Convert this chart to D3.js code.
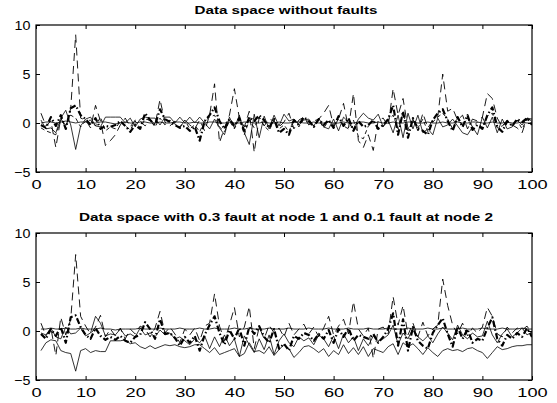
<!DOCTYPE html>
<html>
<head>
<meta charset="utf-8">
<script src="https://cdn.jsdelivr.net/npm/d3@7"></script>
<style>
  body { margin: 0; background: #fff; }
  svg { display: block; font-family: "Liberation Sans", Arial, sans-serif; }
</style>
</head>
<body>
<div id="chart"></div>
<script>
// Tick values and titles
const xTicks = [0, 10, 20, 30, 40, 50, 60, 70, 80, 90, 100]
const yTicks = [-5, 0, 5, 10]
const titles = [
  "Data space without faults",
  "Data space with 0.3 fault at node 1 and 0.1 fault at node 2"
]

// Top panel: data space without faults (samples 1..100)
const topSpike = [1.0,-0.3,0.2,-2.5,0.5,-0.5,1.5,9.0,0.5,0.3,-0.5,1.8,0.2,-2.3,-1.8,-1.2,-0.2,0.5,-0.4,0.3,
  0.2,-0.3,0.4,-0.2,2.4,0.1,-0.3,0.2,-0.5,0.3,-0.2,-0.6,0.3,-0.8,0.8,4.0,-2.0,-0.5,0.8,3.5,
  0.5,-0.4,1.2,-3.0,0.6,-0.3,0.4,0.2,-0.4,0.1,1.0,-0.6,0.3,0.6,-0.2,0.2,0.4,1.0,1.8,-0.3,
  0.4,2.0,-0.5,3.0,-1.8,-2.5,-1.2,-2.8,0.3,0.5,-0.3,3.5,0.8,2.5,-0.6,0.4,-0.8,1.0,-0.5,0.3,
  0.6,5.0,1.2,1.5,0.3,0.8,-0.6,0.4,0.2,0.6,3.0,2.5,0.5,-0.4,0.3,-0.2,-0.5,-1.0,0.5,0.2]
const topThick = [-0.2,-0.5,0.6,-0.3,0.8,-0.6,1.5,1.8,0.8,0.4,-0.2,0.5,-0.6,-0.3,-0.4,-0.2,0.2,-0.3,-0.9,-0.2,
  -0.6,1.0,0.3,-0.2,1.4,0.4,0.1,-0.2,-0.5,-0.3,-0.8,-0.4,-1.8,0.2,0.8,1.6,0.2,-0.6,0.4,-0.3,
  0.5,-0.8,0.6,0.2,0.8,0.3,-0.5,0.4,-1.0,-0.6,-1.2,0.3,-0.2,0.6,0.2,-0.4,0.4,-0.2,0.3,-0.5,
  0.7,-0.3,0.5,-0.8,0.2,-0.4,-0.2,0.3,-0.6,-0.2,0.4,1.8,-1.2,1.2,-1.5,0.5,-0.6,-0.8,-1.2,0.3,
  1.0,1.4,0.2,-0.8,0.6,-0.4,0.8,-0.7,-0.2,-0.6,0.8,1.6,-0.4,-0.9,0.2,-0.3,0.4,0.1,0.5,-0.2]
const topZigzag = [0.3,-0.6,-0.5,-1.0,0.5,1.3,-0.2,-2.7,-0.3,0.4,0.6,-0.3,-0.4,0.6,0.6,0.6,0.6,0.0,0.5,-0.4,
  0.4,0.6,0.5,0.5,-0.2,0.6,0.6,0.0,0.6,0.0,0.6,0.0,0.6,0.0,-0.6,0.4,-0.5,-1.2,0.6,-0.5,
  0.8,-1.0,-2.2,0.9,-1.5,0.7,-0.6,0.8,-0.3,0.9,0.2,0.4,-0.2,0.3,0.4,-0.3,0.5,-0.4,-0.6,0.4,
  -0.8,0.6,0.1,-0.6,0.4,1.0,0.5,0.3,0.9,-0.4,0.3,-1.0,0.8,-1.5,1.0,-0.6,0.8,-1.0,-0.6,-1.2,
  0.5,-0.4,-0.2,0.4,-0.3,-1.0,-1.2,-0.4,-1.2,0.6,-0.5,0.6,-1.0,0.4,-0.6,-0.4,0.3,-0.2,0.5,0.4]
const topFlat = [0.0,0.1,0.1,0.0,0.1,0.2,0.1,0.0,0.1,0.1,0.0,0.0,0.1,0.1,0.0,-0.1,0.0,0.1,0.0,0.0,
  0.1,0.1,0.0,0.0,0.1,0.0,0.0,0.1,0.1,0.0,0.0,0.1,0.0,0.0,0.1,0.1,0.0,0.0,0.1,0.0,
  0.0,0.1,0.1,0.0,0.0,0.1,0.0,0.0,0.1,0.0,0.0,0.1,0.1,0.0,0.0,0.1,0.0,0.0,0.1,0.0,
  0.0,0.1,0.0,0.0,0.1,0.1,0.0,0.0,0.1,0.0,0.0,0.1,0.0,0.0,0.1,0.1,0.0,0.0,0.1,0.0,
  0.0,0.1,0.0,0.0,0.1,0.0,0.0,0.1,0.1,0.0,0.0,0.1,0.0,0.0,0.1,0.0,0.0,0.1,0.0,0.0]
const topDashed = [-0.5,-0.8,-1.0,-1.2,0.3,-0.2,0.8,0.5,-0.4,0.2,0.3,-0.3,0.6,-0.8,-0.4,-0.6,0.2,-0.3,-0.7,0.2,
  -0.5,0.4,0.3,-0.4,0.5,-0.2,0.3,-0.1,-0.4,0.3,-0.6,-0.2,-0.9,0.2,0.6,0.8,-0.4,-0.9,0.2,-0.6,
  0.4,-1.2,0.3,-0.5,0.6,-0.3,-0.8,0.3,-0.6,-0.2,-0.9,0.4,-0.4,0.5,0.1,-0.3,0.3,-0.5,0.2,-0.4,
  0.4,-0.3,-0.6,0.3,-1.4,-1.6,-0.3,0.2,-0.5,-0.3,0.3,0.8,-0.6,1.0,-0.8,0.2,-0.5,0.4,-0.9,0.1,
  0.6,1.0,0.4,-0.6,0.5,-0.3,0.5,-0.4,0.1,-0.5,0.7,1.0,-0.5,-0.3,0.2,-0.3,0.3,-0.6,0.4,0.1]

// Bottom panel: 0.3 fault at node 1, 0.1 fault at node 2
const botSpike = [0.8,-0.5,0.3,-2.5,1.4,-0.4,1.2,7.8,1.5,0.5,-0.3,0.4,1.6,-0.6,0.2,-0.5,0.3,-0.8,0.2,-0.3,
  0.5,0.2,-0.6,0.3,2.0,-0.2,0.4,-0.3,-1.2,0.2,-0.4,0.3,-1.0,0.5,0.8,3.8,0.5,-1.0,0.6,2.4,
  -0.6,0.4,2.5,-1.8,0.4,-0.8,0.6,-0.2,0.3,-0.6,0.8,-0.4,0.2,0.7,-0.3,0.4,-0.6,0.3,1.5,-0.4,
  0.5,1.2,-0.3,3.0,0.2,-0.5,0.3,-2.8,0.2,0.4,-0.3,3.5,0.6,2.6,-0.4,0.8,-0.6,0.9,-0.5,0.2,
  0.6,5.3,2.6,0.6,-0.3,0.8,-0.5,0.3,-0.2,0.4,2.4,1.5,-0.3,-0.6,0.4,-0.2,0.3,0.1,0.5,-0.3]
const botThick = [-0.3,-0.8,0.2,-0.5,0.4,-1.2,1.4,1.6,0.4,-0.4,-0.8,0.3,-0.5,-0.9,-0.6,-0.9,-0.5,-1.0,-1.2,-0.6,
  -0.4,0.9,0.2,-0.8,1.2,-0.3,-0.2,-0.7,-1.5,-0.6,-1.2,-0.5,-2.0,-0.4,0.6,1.5,-0.2,-1.4,0.1,-0.8,
  0.3,-1.5,0.4,-0.3,0.5,-0.6,-1.2,0.2,-1.8,-1.3,-2.0,-0.5,-0.8,-0.2,-0.4,-1.0,-0.3,-0.8,0.1,-1.2,
  0.2,-0.6,0.3,-1.0,-0.4,-0.6,-0.8,-0.3,-1.2,-0.6,0.2,1.8,-1.5,1.2,-2.0,0.4,-1.0,-1.5,-1.8,-0.2,
  0.6,1.3,-0.3,-1.6,0.4,-0.8,0.2,-1.2,-0.8,-1.0,0.3,1.4,-0.8,-1.5,-0.4,-0.8,-0.2,-0.6,0.3,-0.6]
const botOffset = [-2.0,-1.2,-0.9,-1.0,-2.0,-2.2,-2.3,-4.1,-2.0,-1.8,-2.2,-2.0,-2.1,-2.1,-1.0,-1.0,-1.0,-0.9,-1.3,-1.2,
  -1.6,-1.8,-1.5,-1.8,-1.6,-1.4,-1.5,-1.4,-1.6,-1.7,-1.6,-1.4,-1.4,-1.8,-2.2,-1.7,-2.4,-2.2,-2.0,-1.8,
  -2.6,-2.3,-1.2,-2.1,-2.0,-2.3,-1.6,-2.5,-1.9,-1.4,-1.8,-2.7,-2.2,-1.6,-1.5,-1.8,-2.2,-1.8,-2.6,-2.0,
  -2.4,-1.4,-2.3,-1.7,-2.4,-1.6,-2.6,-1.8,-2.0,-2.2,-1.6,-1.3,-2.4,-1.2,-1.6,-1.3,-1.8,-2.4,-1.7,-2.2,
  -2.6,-2.0,-1.8,-2.0,-1.9,-2.1,-1.8,-1.7,-2.0,-2.2,-2.8,-2.2,-1.6,-1.9,-1.8,-1.6,-1.5,-1.5,-1.4,-1.4]
const botFlat = [0.2,0.2,0.3,0.2,0.2,0.3,0.2,0.2,0.3,0.2,0.2,0.2,0.3,0.2,0.2,0.1,0.2,0.2,0.2,0.2,
  0.3,0.2,0.2,0.2,0.3,0.2,0.2,0.2,0.3,0.2,0.2,0.2,0.3,0.2,0.2,0.3,0.2,0.2,0.2,0.3,
  0.2,0.2,0.3,0.2,0.2,0.2,0.3,0.2,0.2,0.2,0.3,0.2,0.2,0.2,0.3,0.2,0.2,0.2,0.3,0.2,
  0.2,0.2,0.3,0.2,0.2,0.2,0.3,0.2,0.2,0.2,0.3,0.2,0.2,0.2,0.3,0.2,0.2,0.2,0.3,0.2,
  0.2,0.3,0.2,0.2,0.2,0.3,0.2,0.2,0.2,0.3,0.2,0.2,0.2,0.3,0.2,0.2,0.2,0.3,0.2,0.2]
const botZigzag = [-0.2,-0.4,0.3,-0.6,-0.8,0.4,-0.3,-0.2,0.3,-0.5,-0.2,1.5,0.8,-0.5,-0.3,-0.4,0.2,-0.5,-0.3,-0.6,
  0.3,-0.4,-0.2,-0.6,0.1,-0.4,-0.2,-0.8,-0.6,-1.0,-1.4,-0.8,-1.2,-0.5,-1.8,-0.6,-1.6,-0.4,-1.5,-0.8,
  -2.6,-0.5,-1.4,-2.2,-0.8,-1.9,-0.4,-2.4,-1.0,-0.3,-1.2,-1.6,-0.6,-1.0,-0.7,-1.4,-0.4,-0.8,-1.6,-0.5,
  -1.8,-0.3,-1.2,-0.6,-2.0,-0.8,-1.5,-0.5,-1.0,-0.8,-0.4,0.6,-1.4,-0.2,-0.8,0.3,-0.6,-1.0,-0.5,-1.2,
  -0.3,0.4,-0.2,-0.9,0.6,-0.4,-0.8,-0.2,-0.6,-0.5,1.0,-0.4,-1.2,-0.3,0.2,-0.6,-0.2,0.3,-0.4,-0.1]

const lineStyles = {
  spike:  { width: 0.9, dash: "8,5" },
  thick:  { width: 2.2, dash: "6,2.5,1.5,2.5" },
  zigzag: { width: 0.8, dash: null },
  flat:   { width: 0.8, dash: null },
  dashed: { width: 0.9, dash: "4,3" }
}

const panels = [
  { title: titles[0], top: 25, bottom: 172, titleY: 14, titleWidth: 183,
    series: [
      { values: topFlat, style: "flat" },
      { values: topZigzag, style: "zigzag" },
      { values: topDashed, style: "dashed" },
      { values: topSpike, style: "spike" },
      { values: topThick, style: "thick" }
    ] },
  { title: titles[1], top: 233, bottom: 380, titleY: 221, titleWidth: 414,
    series: [
      { values: botFlat, style: "flat" },
      { values: botOffset, style: "zigzag" },
      { values: botZigzag, style: "zigzag" },
      { values: botSpike, style: "spike" },
      { values: botThick, style: "thick" }
    ] }
]

const width = 557
const height = 403
const left = 36
const right = 532

const svg = d3.select("#chart")
  .append("svg")
  .attr("width", width)
  .attr("height", height)

const x = d3.scaleLinear().domain([0, 100]).range([left, right])

panels.forEach(p => {
  const y = d3.scaleLinear().domain([-5, 10]).range([p.bottom, p.top])
  const g = svg.append("g")

  // Clip so nothing leaks past the box
  const clipId = `clip-${p.top}`
  svg.append("clipPath").attr("id", clipId)
    .append("rect")
    .attr("x", left).attr("y", p.top)
    .attr("width", right - left).attr("height", p.bottom - p.top)

  const line = d3.line()
    .x((d, i) => x(i + 1))
    .y(d => y(d))

  const plot = g.append("g").attr("clip-path", `url(#${clipId})`)
  p.series.forEach(s => {
    const st = lineStyles[s.style]
    plot.append("path")
      .datum(s.values)
      .attr("d", line)
      .attr("fill", "none")
      .attr("stroke", "#000")
      .attr("stroke-width", st.width)
      .attr("stroke-dasharray", st.dash)
      .attr("stroke-linejoin", "round")
  })

  // Axes, MATLAB style: inward ticks on all four sides
  const styleAxis = sel => {
    sel.select(".domain").remove()
    sel.selectAll("line").attr("stroke", "#000")
    sel.selectAll("text")
      .attr("fill", "#000")
      .style("font-size", "13px")
      .style("font-family", "'Liberation Sans', Arial, sans-serif")
  }

  // the source figure is stretched sideways, so x labels get widened
  g.append("g")
    .attr("transform", `translate(0,${p.bottom})`)
    .call(d3.axisBottom(x).tickValues(xTicks).tickSize(-4).tickPadding(8))
    .call(styleAxis)
    .selectAll("text").attr("transform", "scale(1.4,1)")

  g.append("g")
    .attr("transform", `translate(0,${p.top})`)
    .call(d3.axisTop(x).tickValues(xTicks).tickSize(-4).tickFormat(""))
    .call(styleAxis)

  g.append("g")
    .attr("transform", `translate(${left},0)`)
    .call(d3.axisLeft(y).tickValues(yTicks).tickSize(-4).tickPadding(5))
    .call(styleAxis)
    .selectAll("text").attr("transform", "scale(1.1,1)")

  g.append("g")
    .attr("transform", `translate(${right},0)`)
    .call(d3.axisRight(y).tickValues(yTicks).tickSize(-4).tickFormat(""))
    .call(styleAxis)

  g.append("rect")
    .attr("x", left).attr("y", p.top)
    .attr("width", right - left).attr("height", p.bottom - p.top)
    .attr("fill", "none")
    .attr("stroke", "#000")
    .attr("stroke-width", 1.2)

  g.append("text")
    .attr("x", (left + right) / 2 + 2)
    .attr("y", p.titleY)
    .attr("text-anchor", "middle")
    .attr("textLength", p.titleWidth)
    .attr("lengthAdjust", "spacingAndGlyphs")
    .style("font-size", "11.5px")
    .style("font-weight", "bold")
    .text(p.title)
})
</script>
</body>
</html>
